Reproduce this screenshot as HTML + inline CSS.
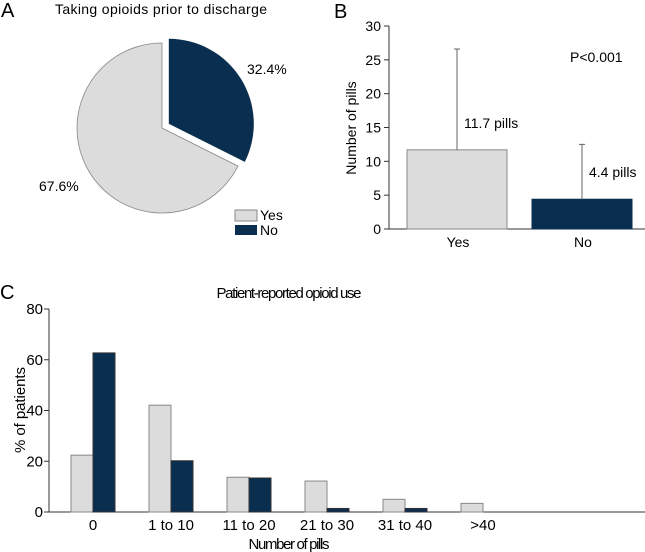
<!DOCTYPE html>
<html><head><meta charset="utf-8"><style>
body{margin:0;background:#fff}
svg{display:block;font-family:"Liberation Sans",Arial,sans-serif}
</style></head><body>
<svg id="s" width="645" height="552" viewBox="0 0 645 552">
<text x="1" y="17" font-size="20">A</text>
<text x="161" y="14" font-size="14" text-anchor="middle" textLength="212">Taking opioids prior to discharge</text>
<g id="pie"></g>
<text x="247" y="74" font-size="14">32.4%</text>
<text x="39" y="191" font-size="14">67.6%</text>
<rect x="235" y="210" width="22" height="11" fill="#dcdcdc" stroke="#888"/>
<text x="260" y="220" font-size="14">Yes</text>
<rect x="235" y="225" width="22" height="10" fill="#0a2e4f"/>
<text x="260" y="235" font-size="14">No</text>

<text x="334" y="18" font-size="20">B</text>
<g id="b"></g>
<text x="570" y="62" font-size="14">P&lt;0.001</text>
<text transform="translate(356,128) rotate(-90)" font-size="14" text-anchor="middle">Number of pills</text>

<text x="0" y="299" font-size="20">C</text>
<text x="289" y="298" font-size="15" text-anchor="middle" textLength="145">Patient-reported opioid use</text>
<g id="c"></g>
<text transform="translate(25,410) rotate(-90)" font-size="15" text-anchor="middle" textLength="86">% of patients</text>
<text x="289" y="549" font-size="15" text-anchor="middle" textLength="81">Number of pills</text>
</svg>
<script>
const pieLabels=["No","Yes"];
const pieValues=[32.4,67.6];
const bCats=["Yes","No"];
const bMeans=[11.7,4.4];
const bErr=[26.6,12.5];
const bTicks=[0,5,10,15,20,25,30];
const cCats=["0","1 to 10","11 to 20","21 to 30","31 to 40",">40"];
const cYes=[22.4,42.1,13.7,12.2,5,3.4];
const cNo=[62.7,20.2,13.4,1.4,1.4,0];
const cTicks=[0,20,40,60,80];

const NS="http://www.w3.org/2000/svg";
function mk(p,t,a){const e=document.createElementNS(NS,t);for(const k in a)e.setAttribute(k,a[k]);p.appendChild(e);return e;}
const GRAY="#dcdcdc",NAVY="#0a2e4f",STR="#888";

const pie=document.getElementById('pie');
const cx=162,cy=128,R=85;
const tot=pieValues.reduce((a,b)=>a+b,0);
let ang=0;
pieValues.forEach((v,i)=>{
  const a0=ang,a1=ang+v/tot*2*Math.PI;ang=a1;
  const mid=(a0+a1)/2;const off=i===0?8:0;
  const ox=cx+off*Math.sin(mid),oy=cy-off*Math.cos(mid);
  const x0=ox+R*Math.sin(a0),y0=oy-R*Math.cos(a0),x1=ox+R*Math.sin(a1),y1=oy-R*Math.cos(a1);
  const large=(a1-a0)>Math.PI?1:0;
  const p=mk(pie,'path',{d:`M${ox},${oy}L${x0},${y0}A${R},${R} 0 ${large} 1 ${x1},${y1}Z`,fill:i===0?NAVY:GRAY,stroke:i===0?"none":STR,'stroke-width':0.8});
  
  
});

const b=document.getElementById('b');
const bx0=389,by0=229,byS=(229-26)/30;
const by=v=>by0-v*byS;
let l=mk(b,'line',{x1:bx0,y1:by(30),x2:bx0,y2:by0,stroke:'#333'});

l=mk(b,'line',{x1:bx0,y1:by0,x2:645,y2:by0,stroke:'#333'});

bTicks.forEach(t=>{
  mk(b,'line',{x1:bx0-5,y1:by(t),x2:bx0,y2:by(t),stroke:'#333'});
  const tx=mk(b,'text',{x:bx0-8,y:by(t)+5,'font-size':14,'text-anchor':'end'});tx.textContent=t;
  
});
const bCenters=[457,582];
bCats.forEach((c,i)=>{
  const xc=bCenters[i];
  const r=mk(b,'rect',{x:xc-50,y:by(bMeans[i]),width:100,height:by0-by(bMeans[i]),fill:i?NAVY:GRAY,stroke:i?NAVY:STR});
  
  const e=mk(b,'path',{d:`M${xc},${by(bMeans[i])}V${by(bErr[i])}M${xc-3},${by(bErr[i])}H${xc+3}`,stroke:'#666',fill:'none'});
  
  const t=mk(b,'text',{x:xc+7,y:by(bMeans[i])-22,'font-size':14});t.textContent=bMeans[i]+' pills';
  
  const xl=mk(b,'text',{x:xc+1,y:247,'font-size':14,'text-anchor':'middle'});xl.textContent=c;
  
});

const c=document.getElementById('c');
const cx0=49,cy0=512,cyS=(512-309)/80;
const cy_=v=>cy0-v*cyS;
l=mk(c,'line',{x1:cx0,y1:cy_(80),x2:cx0,y2:cy0,stroke:'#333'});

l=mk(c,'line',{x1:cx0,y1:cy0,x2:645,y2:cy0,stroke:'#333'});

cTicks.forEach(t=>{
  mk(c,'line',{x1:cx0-5,y1:cy_(t),x2:cx0,y2:cy_(t),stroke:'#333'});
  const tx=mk(c,'text',{x:cx0-6,y:cy_(t)+5,'font-size':15,'text-anchor':'end'});tx.textContent=t;
  
});
const gx=i=>93+i*78;
cCats.forEach((cat,i)=>{
  const xc=gx(i);
  if(cYes[i]>0){const r=mk(c,'rect',{x:xc-22,y:cy_(cYes[i]),width:22,height:cy0-cy_(cYes[i]),fill:GRAY,stroke:STR});
  }
  if(cNo[i]>0){const r=mk(c,'rect',{x:xc,y:cy_(cNo[i]),width:22,height:cy0-cy_(cNo[i]),fill:NAVY,stroke:'#333'});
  }
  const xl=mk(c,'text',{x:xc,y:530,'font-size':15,'text-anchor':'middle'});xl.textContent=cat;
  
});
</script>
</body></html>
